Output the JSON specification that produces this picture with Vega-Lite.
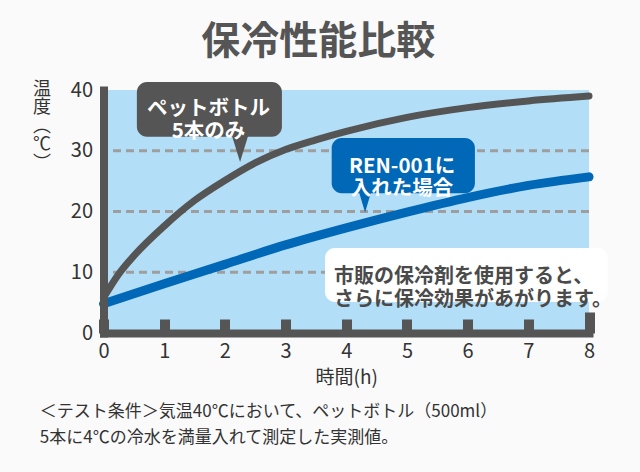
{
  "$schema": "https://vega.github.io/schema/vega-lite/v6.json",
  "width": 485.5,
  "height": 243,
  "autosize": {"type": "none"},
  "padding": {"left": 103.5, "top": 90, "right": 51, "bottom": 139},
  "background": "#fafafa",
  "config": {
    "view": {"fill": "#b2dff7", "stroke": null},
    "font": "Noto Sans CJK JP"
  },
  "title": {
    "text": "保冷性能比較",
    "font": "Noto Sans CJK JP",
    "fontSize": 39,
    "fontWeight": "bold",
    "color": "#555555",
    "anchor": "middle",
    "frame": "group",
    "baseline": "middle",
    "dx": -28,
    "dy": 4,
    "offset": 3
  },
  "datasets": {
    "gray": [
      {"h": 0, "t": 5.8}, {"h": 0.25, "t": 9.7}, {"h": 0.5, "t": 12.7}, {"h": 1, "t": 17.6},
      {"h": 1.5, "t": 21.8}, {"h": 2, "t": 25.1}, {"h": 2.5, "t": 28.0}, {"h": 3, "t": 30.2},
      {"h": 3.5, "t": 31.8}, {"h": 4, "t": 33.2}, {"h": 5, "t": 35.5}, {"h": 6, "t": 37.1}, {"h": 7, "t": 38.2}, {"h": 8, "t": 39.0}
    ],
    "blue": [
      {"h": 0, "t": 4.8}, {"h": 1, "t": 8.1}, {"h": 2, "t": 11.3}, {"h": 3, "t": 14.5},
      {"h": 4, "t": 17.3}, {"h": 5, "t": 19.9}, {"h": 6, "t": 22.3}, {"h": 7, "t": 24.3}, {"h": 8, "t": 25.7}
    ],
    "grid": [{"t": 10}, {"t": 20}, {"t": 30}],
    "grayBox": [{"h": 0.55, "h2": 2.94, "t": 41.3, "t2": 32.3}],
    "grayPointer": [{"h": 2.25, "t": 30.2}],
    "grayText": [{"h": 1.73, "t": 36.95, "label": "ペットボトル\n5本のみ"}],
    "blueBox": [{"h": 3.76, "h2": 6.12, "t": 32.1, "t2": 23.0}],
    "bluePointer": [{"h": 4.31, "t": 21.5}],
    "blueText": [{"h": 4.92, "t": 27.3, "label": "REN-001に\n入れた場合"}],
    "whiteBox": [{"h": 3.65, "h2": 8.31, "t": 14.0, "t2": 5.1}],
    "whiteText": [{"h": 3.8, "t": 9.3, "label": "市販の保冷剤を使用すると、\nさらに保冷効果があがります。"}],
    "note": [
      {"h": -1.05, "t": -13.0, "label": "＜テスト条件＞気温40℃において、ペットボトル（500ml）"},
      {"h": -1.05, "t": -17.3, "label": "5本に4℃の冷水を満量入れて測定した実測値。"}
    ]
  },
  "layer": [
    {
      "data": {"name": "grid"},
      "mark": {"type": "rule", "color": "#9e9e9e", "strokeWidth": 3, "strokeDash": [8, 5]},
      "encoding": {
        "y": {"field": "t", "type": "quantitative", "scale": {"domain": [0, 40], "nice": false}}
      }
    },
    {
      "data": {"name": "gray"},
      "mark": {"type": "line", "color": "#555555", "strokeWidth": 7, "strokeCap": "round", "interpolate": "monotone"},
      "encoding": {
        "x": {
          "field": "h", "type": "quantitative",
          "scale": {"domain": [0, 8], "nice": false, "zero": false},
          "axis": {
            "values": [0, 1, 2, 3, 4, 5, 6, 7, 8],
            "format": "d",
            "grid": false,
            "zindex": 1,
            "domainColor": "#555555",
            "domainWidth": 8,
            "domainCap": "square",
            "ticks": true,
            "tickColor": "#555555",
            "tickWidth": 10,
            "tickCap": "butt",
            "tickSize": {"condition": {"test": "datum.value === 8", "value": -21}, "value": -14},
            "labelFontSize": 20,
            "labelColor": "#333333",
            "labelPadding": {"condition": {"test": "datum.value === 8", "value": 29}, "value": 22},
            "labelFlush": false,
            "title": "時間(h)",
            "titleFontSize": 19,
            "titleFontWeight": "normal",
            "titleColor": "#333333",
            "titleBaseline": "middle",
            "titleY": 44
          }
        },
        "y": {
          "field": "t", "type": "quantitative",
          "scale": {"domain": [0, 40], "nice": false},
          "axis": {
            "values": [0, 10, 20, 30, 40],
            "grid": false,
            "zindex": 1,
            "ticks": false,
            "domainColor": "#555555",
            "domainWidth": 8,
            "domainCap": "square",
            "labelFontSize": 20,
            "labelColor": "#333333",
            "labelPadding": 11,
            "labelFlush": false,
            "title": ["温", "度", "︵", "℃", "︶"],
            "titleAngle": 0,
            "titleAlign": "center",
            "titleBaseline": "top",
            "titleX": -62,
            "titleY": -10,
            "titleLineHeight": 18.5,
            "titleFontSize": 18,
            "titleFontWeight": "normal",
            "titleColor": "#333333"
          }
        }
      }
    },
    {
      "data": {"name": "blue"},
      "mark": {"type": "line", "color": "#0068b6", "strokeWidth": 9, "strokeCap": "round", "interpolate": "monotone"},
      "encoding": {
        "x": {"field": "h", "type": "quantitative"},
        "y": {"field": "t", "type": "quantitative"}
      }
    },
    {
      "data": {"name": "grayBox"},
      "mark": {"type": "rect", "color": "#555555", "cornerRadius": 10},
      "encoding": {
        "x": {"field": "h", "type": "quantitative"},
        "x2": {"field": "h2"},
        "y": {"field": "t", "type": "quantitative"},
        "y2": {"field": "t2"}
      }
    },
    {
      "data": {"name": "grayPointer"},
      "mark": {"type": "point", "filled": true, "opacity": 1, "color": "#555555", "shape": "M-0.68,-1.2L0.68,-1.2L0,1Z", "size": 625},
      "encoding": {
        "x": {"field": "h", "type": "quantitative"},
        "y": {"field": "t", "type": "quantitative"}
      }
    },
    {
      "data": {"name": "blueBox"},
      "mark": {"type": "rect", "color": "#0068b6", "cornerRadius": 10},
      "encoding": {
        "x": {"field": "h", "type": "quantitative"},
        "x2": {"field": "h2"},
        "y": {"field": "t", "type": "quantitative"},
        "y2": {"field": "t2"}
      }
    },
    {
      "data": {"name": "bluePointer"},
      "mark": {"type": "point", "filled": true, "opacity": 1, "color": "#0068b6", "shape": "M-0.65,-1.2L0.65,-1.2L0,1Z", "size": 400},
      "encoding": {
        "x": {"field": "h", "type": "quantitative"},
        "y": {"field": "t", "type": "quantitative"}
      }
    },
    {
      "data": {"name": "whiteBox"},
      "mark": {"type": "rect", "color": "#ffffff", "cornerRadius": 10},
      "encoding": {
        "x": {"field": "h", "type": "quantitative"},
        "x2": {"field": "h2"},
        "y": {"field": "t", "type": "quantitative"},
        "y2": {"field": "t2"}
      }
    },
    {
      "data": {"name": "grayText"},
      "mark": {"type": "text", "color": "#ffffff", "fontSize": 20.5, "fontWeight": "bold", "lineBreak": "\n", "lineHeight": 23, "align": "center", "baseline": "middle"},
      "encoding": {
        "x": {"field": "h", "type": "quantitative"},
        "y": {"field": "t", "type": "quantitative"},
        "text": {"field": "label"}
      }
    },
    {
      "data": {"name": "blueText"},
      "mark": {"type": "text", "color": "#ffffff", "fontSize": 20.5, "fontWeight": "bold", "lineBreak": "\n", "lineHeight": 22, "align": "center", "baseline": "middle"},
      "encoding": {
        "x": {"field": "h", "type": "quantitative"},
        "y": {"field": "t", "type": "quantitative"},
        "text": {"field": "label"}
      }
    },
    {
      "data": {"name": "whiteText"},
      "mark": {"type": "text", "color": "#4a4a4a", "fontSize": 20, "fontWeight": "bold", "lineBreak": "\n", "lineHeight": 23, "align": "left", "baseline": "middle"},
      "encoding": {
        "x": {"field": "h", "type": "quantitative"},
        "y": {"field": "t", "type": "quantitative"},
        "text": {"field": "label"}
      }
    },
    {
      "data": {"name": "note"},
      "mark": {"type": "text", "color": "#333333", "fontSize": 17, "align": "left", "baseline": "middle"},
      "encoding": {
        "x": {"field": "h", "type": "quantitative"},
        "y": {"field": "t", "type": "quantitative"},
        "text": {"field": "label"}
      }
    }
  ]
}
